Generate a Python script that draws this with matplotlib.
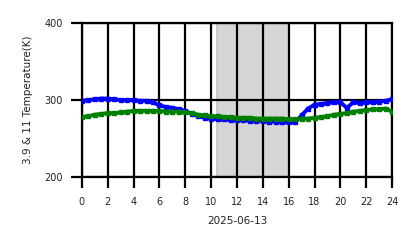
import matplotlib
matplotlib.use("Agg")
import matplotlib.pyplot as plt

# hours of day (2025-06-13)
hours = [0, 0.5, 1, 1.5, 2, 2.5, 3, 3.5, 4, 4.5, 5, 5.5, 6, 6.5, 7, 7.5, 8, 8.5,
         9, 9.5, 10, 10.5, 11, 11.5, 12, 12.5, 13, 13.5, 14, 14.5, 15, 15.5, 16,
         16.5, 17, 17.5, 18, 18.5, 19, 19.5, 20, 20.5, 21, 21.5, 22, 22.5, 23, 23.5, 24]

# band 3.9 um (blue)
t39 = [299, 300, 301, 302, 302, 301, 300, 300, 300, 299, 299, 297, 293, 291, 290, 288,
       286, 282, 279, 277, 276, 275, 275, 274, 274, 274, 273, 273, 273, 272, 272, 271, 271,
       271, 280, 289, 294, 295, 296, 297, 297, 290, 297, 296, 297, 297, 298, 299, 301]

# band 11 um (green)
t11 = [278, 279, 281, 282, 283, 283, 284, 285, 286, 286, 286, 286, 286, 285, 285, 285,
       284, 283, 281, 280, 279, 279, 278, 278, 277, 277, 277, 276, 276, 276, 276, 276, 275,
       275, 276, 276, 277, 278, 279, 281, 282, 283, 285, 286, 287, 288, 288, 289, 285]

night_start, night_end = 10.45, 16.0

fig, ax = plt.subplots(figsize=(4.18, 2.48), dpi=100)
fig.subplots_adjust(left=0.196, right=0.938, top=0.907, bottom=0.286)

ax.axvspan(night_start, night_end, facecolor='#d6d6d6', edgecolor='#c4c4c4', lw=1.2, zorder=0)
ax.plot(hours, t39, color='blue', lw=2.8, marker='s', ms=2.8, zorder=3)
ax.plot(hours, t11, color='green', lw=2.8, marker='s', ms=2.8, zorder=3)

ax.set_xlim(0, 24)
ax.set_ylim(200, 400)
ax.set_xticks(range(0, 25, 2))
ax.set_yticks([200, 300, 400])
ax.grid(True, color='black', lw=1.6, zorder=1)
ax.set_axisbelow(True)
for s in ax.spines.values():
    s.set_color('black')
    s.set_linewidth(1.6)
ax.tick_params(length=8, width=1.6, color='black', labelsize=7, labelcolor='#222222', pad=6)
ax.set_xlabel('2025-06-13', fontsize=7.5, color='#222222', labelpad=7)
ax.set_ylabel('3.9 & 11 Temperature(K)', fontsize=7.5, color='#222222', labelpad=8)

fig.savefig('out.png', dpi=100)
